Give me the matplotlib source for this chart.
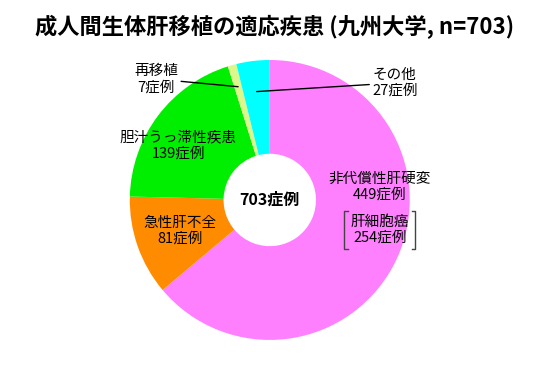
import numpy as np
import matplotlib
matplotlib.use("Agg")
import matplotlib.pyplot as plt

plt.rcParams['font.family'] = ['Noto Sans CJK JP', 'DejaVu Sans']

# data (clockwise from 12 o'clock)
labels = ["非代償性肝硬変", "急性肝不全", "胆汁うっ滞性疾患", "再移植", "その他"]
counts = [449, 81, 139, 7, 27]
colors = ["#FF80FF", "#FF8C00", "#00EE00", "#DDF78A", "#00FFFF"]
sub_label = "肝細胞癌"
sub_count = 254
total = sum(counts)

fig = plt.figure(figsize=(5.5, 3.69), dpi=100)
ax = fig.add_axes([0.236, 0.0786, 0.509, 0.759])

wedges, _ = ax.pie(counts, colors=colors, startangle=90, counterclock=False,
                   radius=1.0, wedgeprops=dict(width=0.67, linewidth=0))
ax.set_xlim(-1, 1)
ax.set_ylim(-1, 1)
ax.set_aspect('equal')

fig.suptitle("成人間生体肝移植の適応疾患 (九州大学, n=703)", fontsize=16,
             fontweight='bold', y=0.96)

ax.text(0, 0, f"{total}症例", ha='center', va='center', fontsize=11.5,
        fontweight='bold')

fs = 10.5
ls = 1.2
# labels inside slices
inside = {0: (0.786, 0.093), 1: (-0.643, -0.22), 2: (-0.655, 0.39)}
for i, (x, y) in inside.items():
    ax.text(x, y, f"{labels[i]}\n{counts[i]}症例", ha='center', va='center',
            fontsize=fs, linespacing=ls)

# sub label (hepatocellular carcinoma) with brackets
sub = ax.text(0.786, -0.214, f"{sub_label}\n{sub_count}症例", ha='center',
              va='center', fontsize=fs, linespacing=ls)

# outside labels with leader lines
outside = {3: ((-0.81, 0.864), 0.84), 4: ((0.893, 0.836), 0.78)}
for i, ((tx, ty), r) in outside.items():
    w = wedges[i]
    ang = np.deg2rad((w.theta1 + w.theta2) / 2)
    ax.annotate(f"{labels[i]}\n{counts[i]}症例", xy=(r * np.cos(ang), r * np.sin(ang)),
                xytext=(tx, ty), ha='center', va='center', fontsize=fs,
                linespacing=ls, annotation_clip=False,
                arrowprops=dict(arrowstyle='-', color='black', lw=1,
                                shrinkA=0, shrinkB=0))

# brackets round the sub label
fig.canvas.draw()
bb = sub.get_window_extent().transformed(ax.transData.inverted())
pad_x, pad_y, tick = 0.045, 0.03, 0.025
x0, x1 = bb.x0 - pad_x, bb.x1 + pad_x
y0, y1 = bb.y0 - pad_y, bb.y1 + pad_y
for xs in ([x0 + tick, x0, x0, x0 + tick], [x1 - tick, x1, x1, x1 - tick]):
    ax.plot(xs, [y1, y1, y0, y0], color='#444444', lw=1, clip_on=False)

fig.savefig("out.png", dpi=100, facecolor='white')
